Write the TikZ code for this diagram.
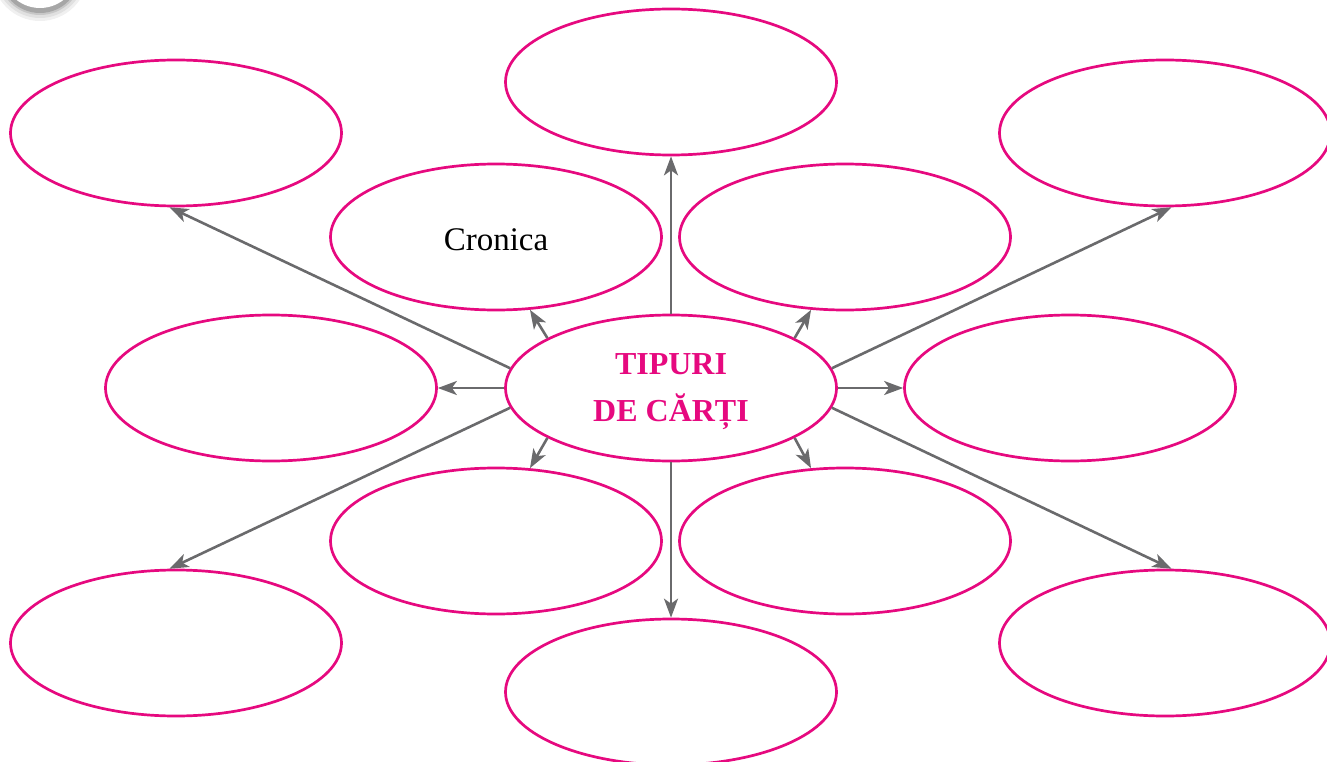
\documentclass[tikz,border=0pt]{standalone}
\usepackage{fontspec}
\setmainfont{Liberation Serif}
\usetikzlibrary{arrows.meta,shapes.geometric}
\definecolor{mag}{HTML}{E6097F}
\definecolor{arr}{HTML}{6A6A6C}
\begin{document}
\begin{tikzpicture}[x=1pt,y=-1pt,
  bubble/.style={draw=mag,line width=2.7pt,ellipse,minimum width=331pt,minimum height=146pt,inner sep=0pt,font=\fontsize{33}{38}\selectfont},
  link/.style={draw=arr,line width=2.6pt,-{Stealth[length=19pt,width=14pt,inset=5pt]}}]
\useasboundingbox (0,0) rectangle (1327,762);
% partial badge
\foreach \r/\c in {48/6,45/12,42/22,40/35} {\fill[black!\c] (40,-27) circle (\r);}
\fill[white] (40,-30) circle (38);
% nodes
\node[bubble] (tc) at (671,82) {};
\node[bubble] (tl) at (176,133) {};
\node[bubble] (tr) at (1165,133) {};
\node[bubble] (cr) at (496,237) {};
\node[font=\fontsize{33}{38}\selectfont,inner sep=0pt] (crt) at (496,240) {Cronica};
\node[bubble] (ur) at (845,237) {};
\node[bubble] (ml) at (271,388) {};
\node[bubble] (c) at (671,388) {};
\node[align=center,text=mag,font=\fontsize{32}{47}\selectfont\bfseries,inner sep=0pt] (ct) at (671,392) {TIPURI\\DE CĂRȚI};
\node[bubble] (mr) at (1070,388) {};
\node[bubble] (ll) at (496,541) {};
\node[bubble] (lr) at (845,541) {};
\node[bubble] (bl) at (176,643) {};
\node[bubble] (bc) at (671,692) {};
\node[bubble] (br) at (1165,643) {};
% connectors
\draw[link] (c.north) -- (tc.south);
\draw[link] (c.south) -- (bc.north);
\draw[link] (c.west) -- (ml.east);
\draw[link] (c.east) -- (mr.west);
\draw[link] (c.158) -- (cr.-65);
\draw[link] (c.22) -- (ur.-115);
\draw[link] (c.-158) -- (ll.65);
\draw[link] (c.-22) -- (lr.115);
\draw[link] (c.173) -- (tl.-95);
\draw[link] (c.7) -- (tr.-85);
\draw[link] (c.-173) -- (bl.95);
\draw[link] (c.-7) -- (br.85);
\end{tikzpicture}
\end{document}
